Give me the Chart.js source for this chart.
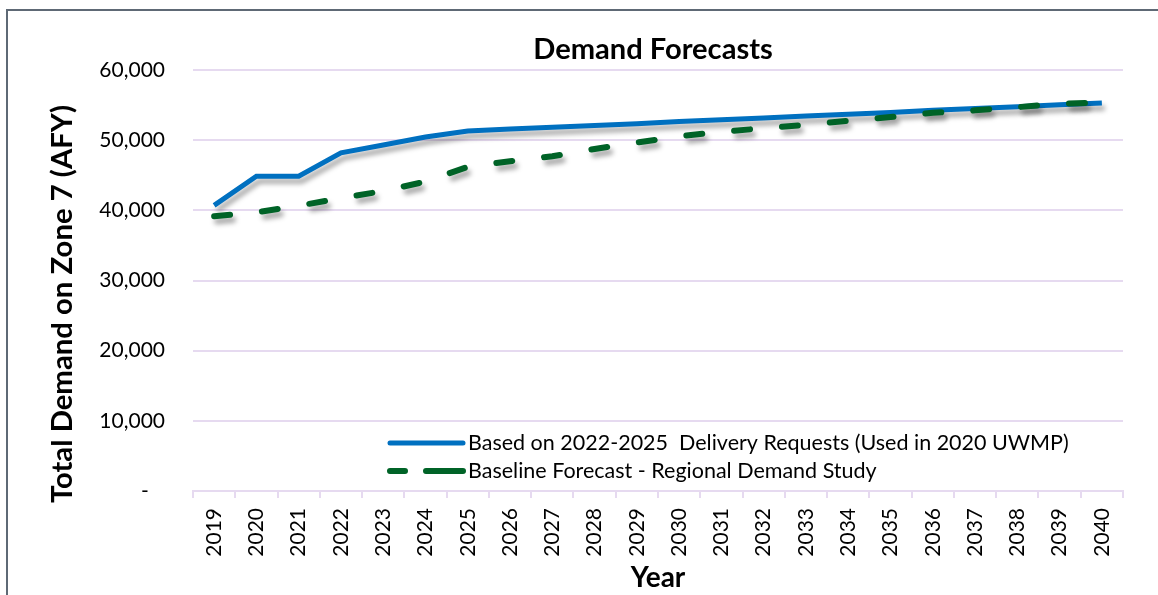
<!DOCTYPE html>
<html>
<head>
<meta charset="utf-8">
<script src="https://cdn.jsdelivr.net/npm/chart.js@4/dist/chart.umd.min.js"></script>
<style>
  body { margin: 0; background: #fff; }
  #wrap { position: relative; width: 1158px; height: 595px; overflow: hidden; }
  #frame { position: absolute; left: 6px; top: 9px; width: 1300px; height: 700px;
           border-left: 2px solid #5e6975; border-top: 2px solid #5e6975; }
  canvas { position: absolute; left: 0; top: 0; }
</style>
</head>
<body>
<div id="wrap">
  <div id="frame"></div>
  <canvas id="demandChart" width="1158" height="595"></canvas>
</div>
<script>
// values (AFY)
const years = ["2019", "2020", "2021", "2022", "2023", "2024", "2025", "2026", "2027", "2028", "2029",
               "2030", "2031", "2032", "2033", "2034", "2035", "2036", "2037", "2038", "2039", "2040"];
const deliveryRequests = [40700, 44850, 44850, 48200, 49300, 50450, 51300, 51600, 51850, 52100, 52350,
                          52650, 52900, 53150, 53450, 53700, 53950, 54250, 54500, 54750, 55050, 55300];
const regionalStudy = [39150, 39700, 40650, 41750, 42750, 44100, 46200, 47000, 47700, 48750, 49650,
                       50550, 51200, 51700, 52200, 52750, 53300, 53900, 54250, 54700, 55200, 55350];
const yTicks = [0, 10000, 20000, 30000, 40000, 50000, 60000];

const chartTitle = "Demand Forecasts";
const yAxisTitle = "Total Demand on Zone 7 (AFY)";
const seriesNames = ["Based on 2022-2025  Delivery Requests (Used in 2020 UWMP)",
                     "Baseline Forecast - Regional Demand Study"];

const FONT = "Lato, 'Open Sans', sans-serif";
const gridColor = "#e6daf0";
const blue = "#0070c0";
const green = "#006327";

// drop shadow under the lines, like the excel original
const lineShadow = {
    id: "lineShadow",
    beforeDatasetDraw(chart) {
        const c = chart.ctx;
        c.save();
        c.shadowColor = "rgba(0,0,0,0.35)";
        c.shadowBlur = 5;
        c.shadowOffsetX = 3;
        c.shadowOffsetY = 5;
    },
    afterDatasetDraw(chart) {
        chart.ctx.restore();
    }
};

// bold text sized so it spans the same length as in the original
function fitBold(c, text, length) {
    c.font = "bold 28px " + FONT;
    const size = 28 * length / c.measureText(text).width;
    c.font = "bold " + size.toFixed(1) + "px " + FONT;
}

// chart title and y title are not centred on the plot in the original
const titles = {
    id: "titles",
    afterDraw(chart) {
        const c = chart.ctx;
        c.save();
        c.fillStyle = "#000";
        c.textAlign = "center";
        c.textBaseline = "middle";
        fitBold(c, chartTitle, 240);
        c.fillText(chartTitle, 653, 50);
        fitBold(c, yAxisTitle, 398);
        c.translate(63, 304);
        c.rotate(-Math.PI / 2);
        c.fillText(yAxisTitle, 0, 0);
        c.restore();
    }
};

// legend drawn inside the plot area
const innerLegend = {
    id: "innerLegend",
    afterDraw(chart) {
        const c = chart.ctx;
        const x0 = 390, x1 = 463;
        const rows = [443, 471];
        c.save();
        c.font = "21.5px " + FONT;
        c.fillStyle = "#000";
        c.textBaseline = "middle";
        c.lineCap = "round";

        c.strokeStyle = blue;
        c.lineWidth = 5;
        c.beginPath();
        c.moveTo(x0, rows[0]);
        c.lineTo(x1, rows[0]);
        c.stroke();
        c.fillText(seriesNames[0], 468, rows[0]);

        c.strokeStyle = green;
        c.lineWidth = 6;
        c.beginPath();
        c.moveTo(x0, rows[1]);
        c.lineTo(x0 + 15, rows[1]);
        c.moveTo(x0 + 36, rows[1]);
        c.lineTo(x1, rows[1]);
        c.stroke();
        c.fillText(seriesNames[1], 468, rows[1]);
        c.restore();
    }
};

const ctx = document.getElementById("demandChart").getContext("2d");
new Chart(ctx, {
    type: "line",
    data: {
        labels: years,
        datasets: [
            {
                label: seriesNames[0],
                data: deliveryRequests,
                borderColor: blue,
                borderWidth: 5,
                pointRadius: 0,
                tension: 0,
                order: 2
            },
            {
                label: seriesNames[1],
                data: regionalStudy,
                borderColor: green,
                borderWidth: 6,
                borderDash: [16, 32],
                borderCapStyle: "round",
                pointRadius: 0,
                tension: 0,
                order: 1
            }
        ]
    },
    plugins: [lineShadow, titles, innerLegend],
    options: {
        responsive: false,
        animation: false,
        layout: { padding: { left: 0, right: 35, top: 70, bottom: 0 } },
        plugins: {
            legend: { display: false },
            tooltip: { enabled: false },
            title: { display: false }
        },
        scales: {
            x: {
                offset: true,
                grid: { offset: true, drawOnChartArea: false, color: gridColor, tickLength: 7, lineWidth: 2 },
                border: { color: gridColor, width: 2 },
                ticks: {
                    color: "#000",
                    font: { family: FONT, size: 21 },
                    minRotation: 90,
                    maxRotation: 90,
                    padding: 10
                },
                title: {
                    display: true,
                    text: "Year",
                    color: "#000",
                    font: { family: FONT, size: 28, weight: "bold" },
                    padding: { top: 0, bottom: 0 }
                },
                afterFit(scale) { scale.height = 104; }
            },
            y: {
                min: 0,
                max: 60000,
                afterBuildTicks(scale) {
                    scale.ticks = yTicks.map(v => ({ value: v }));
                },
                grid: { color: gridColor, lineWidth: 2, drawTicks: false },
                border: { display: false },
                ticks: {
                    color: "#000",
                    font: { family: FONT, size: 21 },
                    padding: 28,
                    callback: v => v === 0 ? "-   " : v.toLocaleString("en-US")
                },
                afterFit(scale) { scale.width = 193; }
            }
        }
    }
});
</script>
</body>
</html>
